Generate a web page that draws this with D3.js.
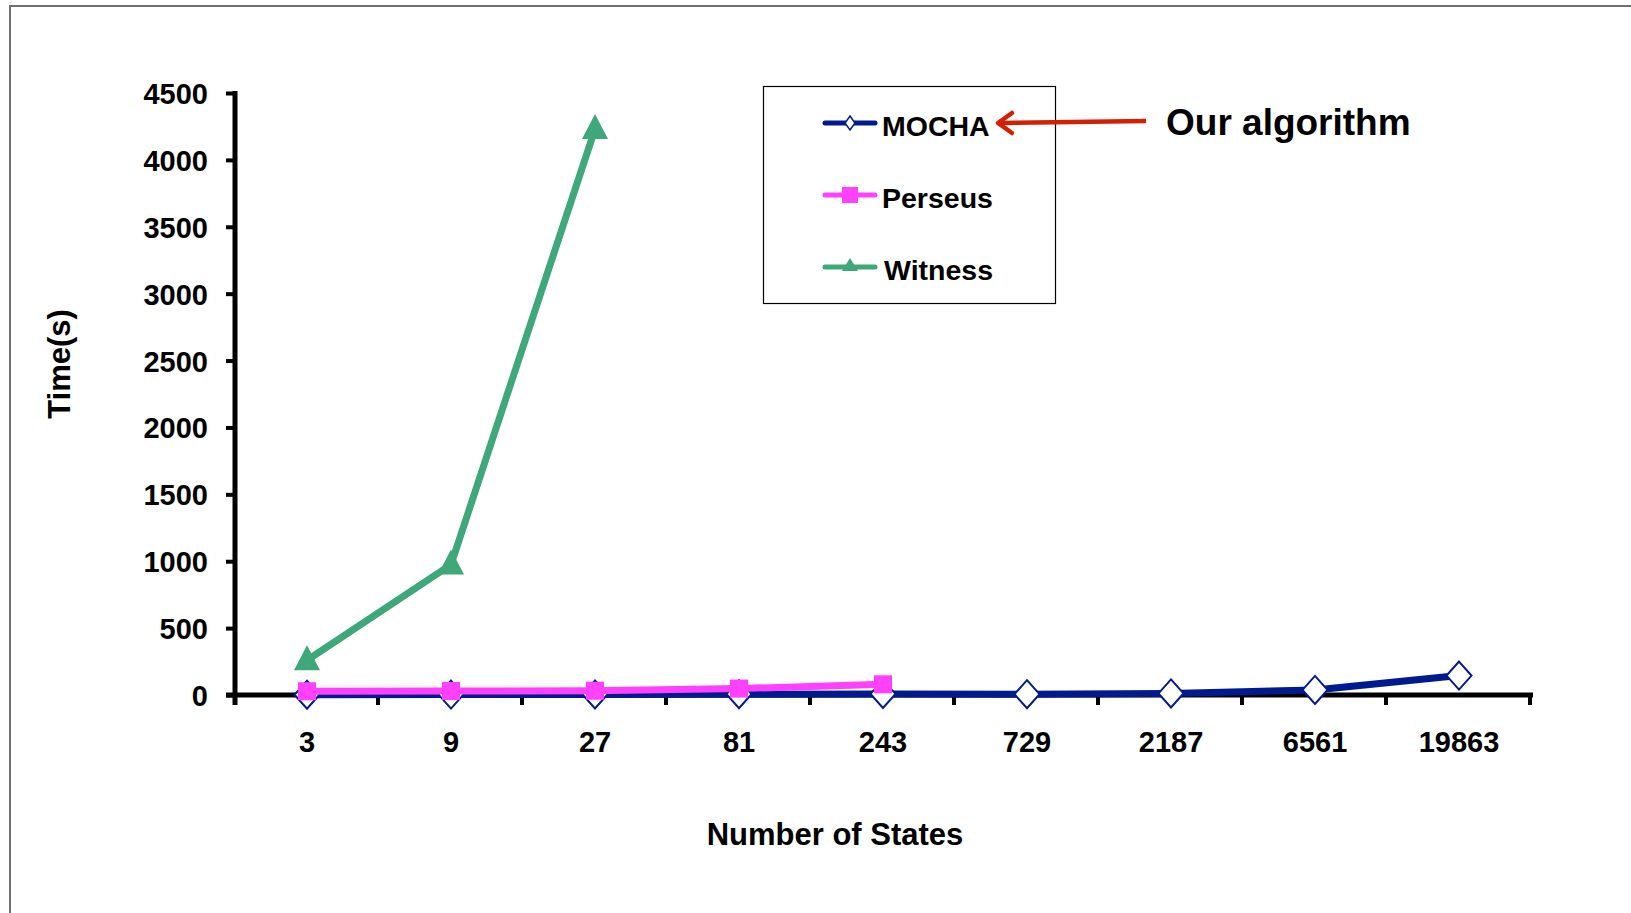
<!DOCTYPE html>
<html>
<head>
<meta charset="utf-8">
<script src="https://cdn.jsdelivr.net/npm/d3@7"></script>
<style>
  html, body { margin: 0; padding: 0; background: #fff; }
  svg { display: block; }
  text { font-family: "Liberation Sans", Arial, sans-serif; font-weight: bold; fill: #000; }
</style>
</head>
<body>
<svg id="chart" width="1631" height="913"></svg>
<script>
// Number of states per benchmark (categorical x axis)
const states = ["3", "9", "27", "81", "243", "729", "2187", "6561", "19863"];
// Running time in seconds for each solver
const mocha   = [2, 3, 4, 6, 8, 6, 12, 38, 145];
const perseus = [28, 30, 32, 48, 80];
const witness = [260, 975, 4230];
// Y axis tick values
const yTicks = [0, 500, 1000, 1500, 2000, 2500, 3000, 3500, 4000, 4500];

const seriesList = [
  { name: "MOCHA",   values: mocha,   color: "#001a8f", marker: "diamond" },
  { name: "Perseus", values: perseus, color: "#ff40ff", marker: "square" },
  { name: "Witness", values: witness, color: "#3ea87a", marker: "triangle" }
];

const svg = d3.select("#chart");

// Outer frame
svg.append("path")
  .attr("d", "M10,913 L10,6 L1631,6")
  .attr("fill", "none").attr("stroke", "#707070").attr("stroke-width", 2);

const x = d3.scaleBand().domain(states).range([235, 1531]).padding(0);
const y = d3.scaleLinear().domain([0, 4500]).range([695, 93]);
const cx = d => x(d) + x.bandwidth() / 2;

// Y axis
const yAxis = svg.append("g").attr("transform", "translate(235,0)")
  .call(d3.axisLeft(y).tickValues(yTicks).tickFormat(d3.format("d"))
    .tickSize(9).tickSizeOuter(0).tickPadding(18));
yAxis.select(".domain").remove();
yAxis.selectAll(".tick line").attr("stroke", "#000").attr("stroke-width", 4);
yAxis.selectAll(".tick text").style("font-size", "29px").attr("dy", "0.36em");
svg.append("line").attr("x1", 235).attr("x2", 235).attr("y1", y(4500) - 2).attr("y2", 705)
  .attr("stroke", "#000").attr("stroke-width", 5);

// X axis: line, boundary ticks and centred labels
svg.append("line").attr("x1", 226).attr("x2", 1533).attr("y1", y(0)).attr("y2", y(0))
  .attr("stroke", "#000").attr("stroke-width", 5);
const bounds = states.map(s => x(s)).concat([x.range()[1]]);
svg.append("g").selectAll("line").data(bounds.slice(1)).join("line")
  .attr("x1", d => d - 1).attr("x2", d => d - 1)
  .attr("y1", y(0)).attr("y2", y(0) + 10)
  .attr("stroke", "#000").attr("stroke-width", 4);
const xAxis = svg.append("g").attr("transform", `translate(0,${y(0)})`)
  .call(d3.axisBottom(x).tickSize(0).tickPadding(36));
xAxis.select(".domain").remove();
xAxis.selectAll(".tick text").style("font-size", "29px");

// Axis titles
svg.append("text").attr("x", 835).attr("y", 845).attr("text-anchor", "middle")
  .style("font-size", "31px").text("Number of States");
svg.append("text").attr("transform", "translate(70,364) rotate(-90)").attr("text-anchor", "middle")
  .style("font-size", "31px").text("Time(s)");

// Marker shapes
function drawMarker(g, type, color, px, py) {
  if (type === "diamond") {
    g.append("path").attr("d", `M${px},${py - 14} L${px + 12.5},${py} L${px},${py + 14} L${px - 12.5},${py} Z`)
      .attr("fill", "#fff").attr("stroke", color).attr("stroke-width", 2);
  } else if (type === "square") {
    g.append("rect").attr("x", px - 9).attr("y", py - 9).attr("width", 18).attr("height", 18)
      .attr("fill", color);
  } else {
    g.append("path").attr("d", `M${px},${py - 15} L${px + 13},${py + 10} L${px - 13},${py + 10} Z`)
      .attr("fill", color);
  }
}

const line = d3.line().x((d, i) => cx(states[i])).y(d => y(d));
seriesList.forEach(s => {
  const g = svg.append("g");
  g.append("path").datum(s.values).attr("d", line)
    .attr("fill", "none").attr("stroke", s.color).attr("stroke-width", 7)
    .attr("stroke-linejoin", "round");
  s.values.forEach((v, i) => drawMarker(g, s.marker, s.color, cx(states[i]), y(v)));
});

// Legend
const lg = svg.append("g");
lg.append("rect").attr("x", 763.5).attr("y", 86.5).attr("width", 292).attr("height", 217)
  .attr("fill", "#fff").attr("stroke", "#000").attr("stroke-width", 1.2);
const legendY = [123, 195, 267];
seriesList.forEach((s, i) => {
  const ly = legendY[i];
  lg.append("line").attr("x1", 825).attr("x2", 875).attr("y1", ly).attr("y2", ly)
    .attr("stroke", s.color).attr("stroke-width", 5).attr("stroke-linecap", "round");
  if (s.marker === "diamond") {
    lg.append("path").attr("d", `M850,${ly - 7} L855,${ly} L850,${ly + 7} L845,${ly} Z`)
      .attr("fill", "#fff").attr("stroke", s.color).attr("stroke-width", 1.5);
  } else if (s.marker === "square") {
    lg.append("rect").attr("x", 842).attr("y", ly - 8).attr("width", 16).attr("height", 16).attr("fill", s.color);
  } else {
    lg.append("path").attr("d", `M850,${ly - 9} L858,${ly + 4} L842,${ly + 4} Z`).attr("fill", s.color);
  }
  lg.append("text").attr("x", i === 2 ? 884 : 882).attr("y", ly + 3).attr("dy", "0.36em")
    .style("font-size", "28.5px").text(s.name);
});

// Annotation arrow pointing at our method
const arrowColor = "#d42000";
svg.append("line").attr("x1", 1146).attr("y1", 121).attr("x2", 1000).attr("y2", 123)
  .attr("stroke", arrowColor).attr("stroke-width", 4.5);
svg.append("path").attr("d", "M1012,113 L998,123 L1012,133")
  .attr("fill", "none").attr("stroke", arrowColor).attr("stroke-width", 4.5)
  .attr("stroke-linecap", "round").attr("stroke-linejoin", "round");
svg.append("text").attr("x", 1166).attr("y", 122).attr("dy", "0.36em")
  .style("font-size", "37px").text("Our algorithm");
</script>
</body>
</html>
